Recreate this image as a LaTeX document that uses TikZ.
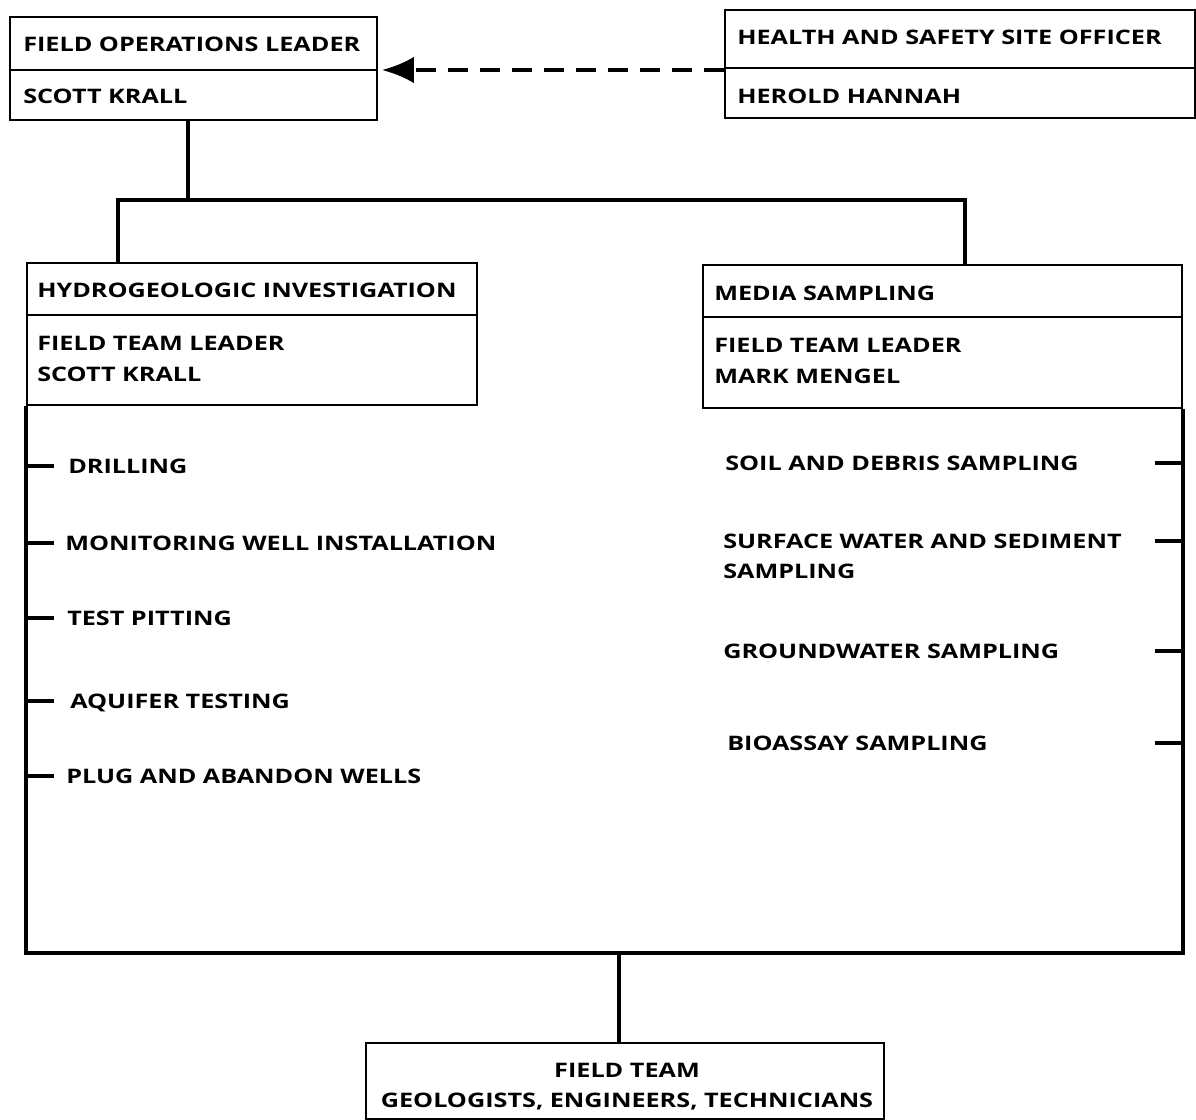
\documentclass[tikz,border=0pt]{standalone}
\usepackage{fontspec}
\setmainfont{Open Sans}[FakeStretch=1.26]
\usetikzlibrary{arrows.meta,fit}
\begin{document}
\begin{tikzpicture}[x=0.75pt,y=-0.75pt,
  box/.style={draw,line width=1.4pt,inner sep=0pt},
  conn/.style={line width=2.6pt},
  frame/.style={line width=2.8pt},
  divider/.style={line width=1.4pt},
  lbl/.style={anchor=base west,inner sep=0pt,text height=10.5pt,text depth=0pt,font=\fontsize{15pt}{18pt}\selectfont\bfseries},
  clbl/.style={anchor=base,inner sep=0pt,text height=10.5pt,text depth=0pt,font=\fontsize{15pt}{18pt}\selectfont\bfseries},
  dasharrow/.style={line width=3pt,dash pattern=on 15pt off 9pt,-{Latex[length=24pt,width=20pt]}}]
\useasboundingbox (0,0) rectangle (1196,1120);
% top boxes
\node[box,fit={(10,17)(377,120)}] (fol) {};
\draw[divider] (fol.west |- 0,70) -- (fol.east |- 0,70);
\node[lbl] (folt) at (23,52) {FIELD OPERATIONS LEADER};
\node[lbl] (foln) at (23,104) {SCOTT KRALL};
\node[box,fit={(725,10)(1195,118)}] (hss) {};
\draw[divider] (hss.west |- 0,68) -- (hss.east |- 0,68);
\node[lbl] (hsst) at (737,45) {HEALTH AND SAFETY SITE OFFICER};
\node[lbl] (hssn) at (737,104) {HEROLD HANNAH};
\coordinate (arr) at (0,70);
\draw[dasharrow] (hss.west |- arr) -- ([xshift=3pt]fol.east |- arr);
% second level boxes
\node[box,fit={(27,263)(477,405)}] (hi) {};
\draw[divider] (hi.west |- 0,315) -- (hi.east |- 0,315);
\node[lbl] (hit) at (37,297) {HYDROGEOLOGIC INVESTIGATION};
\node[lbl] (hil1) at (37,350) {FIELD TEAM LEADER};
\node[lbl] (hil2) at (37,381) {SCOTT KRALL};
\node[box,fit={(703,265)(1182,408)}] (ms) {};
\draw[divider] (ms.west |- 0,317) -- (ms.east |- 0,317);
\node[lbl] (mst) at (714,300) {MEDIA SAMPLING};
\node[lbl] (msl1) at (714,352) {FIELD TEAM LEADER};
\node[lbl] (msl2) at (714,383) {MARK MENGEL};
% tree connectors
\coordinate (jtop) at (188,200);
\coordinate (jl) at (118,200);
\coordinate (jr) at (965,200);
\draw[conn] (fol.south -| jtop) -- (jtop);
\draw[conn] (hi.north -| jl) -- (jl) -- (jr) -- (ms.north -| jr);
% big frame
\coordinate (fb) at (0,953);
\draw[frame] (hi.south west) -- (hi.south west |- fb) -- ([xshift=1.5pt]ms.south east |- fb);
\draw[frame] (ms.south east) -- (ms.south east |- fb);
% left items
\node[lbl] (d1) at (68,473) {DRILLING};
\node[lbl] (d2) at (65,550) {MONITORING WELL INSTALLATION};
\node[lbl] (d3) at (67,625) {TEST PITTING};
\node[lbl] (d4) at (70,708) {AQUIFER TESTING};
\node[lbl] (d5) at (66,783) {PLUG AND ABANDON WELLS};
\foreach \n in {d1,d2,d3,d4,d5}
  \draw[conn] (\n.west -| hi.west) -- ++(28,0);
% right items
\node[lbl] (s1) at (725,470) {SOIL AND DEBRIS SAMPLING};
\node[lbl] (s2) at (723,548) {SURFACE WATER AND SEDIMENT};
\node[lbl] (s2b) at (723,578) {SAMPLING};
\node[lbl] (s3) at (723,658) {GROUNDWATER SAMPLING};
\node[lbl] (s4) at (727,750) {BIOASSAY SAMPLING};
\foreach \n in {s1,s2,s3,s4}
  \draw[conn] (\n.west -| ms.east) -- ++(-28,0);
% bottom box
\node[box,fit={(366,1043)(884,1119)}] (ft) {};
\node[clbl] (ftt) at (627,1077) {FIELD TEAM};
\node[clbl] (ftn) at (627,1107) {GEOLOGISTS, ENGINEERS, TECHNICIANS};
\coordinate (jb) at (619,0);
\draw[conn] (ft.north -| jb) -- (fb -| jb);
\end{tikzpicture}
\end{document}
